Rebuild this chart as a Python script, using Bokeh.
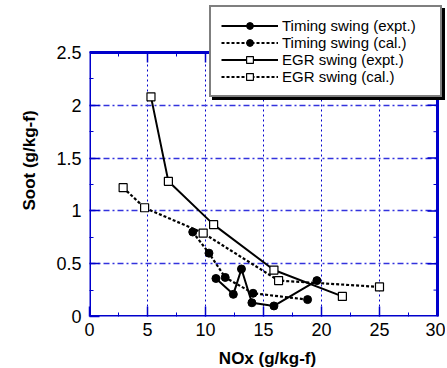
import math
from bokeh.plotting import figure
from bokeh.models import Range1d, FixedTicker, Legend, LegendItem
from bokeh.embed import file_html
from bokeh.resources import INLINE

# ---- data ----
timing_expt_x = [10.9, 12.4, 13.1, 14.0, 15.9, 19.6]
timing_expt_y = [0.36, 0.21, 0.45, 0.13, 0.10, 0.34]
timing_cal_x = [8.9, 10.3, 11.7, 14.1, 18.8]
timing_cal_y = [0.80, 0.60, 0.37, 0.22, 0.16]
egr_expt_x = [5.3, 6.8, 10.7, 15.9, 21.8]
egr_expt_y = [2.08, 1.28, 0.87, 0.44, 0.19]
egr_cal_x = [2.9, 4.75, 9.8, 16.3, 25.0]
egr_cal_y = [1.22, 1.03, 0.79, 0.34, 0.28]

x_ticks = [0, 5, 10, 15, 20, 25, 30]
x_minor = [2.5, 7.5, 12.5, 17.5, 22.5, 27.5]
y_ticks = [0, 0.5, 1, 1.5, 2, 2.5]
y_tick_labels = ["0", "0.5", "1", "1.5", "2", "2.5"]
y_minor = [0.25, 0.75, 1.25, 1.75, 2.25]

labels = ["Timing swing (expt.)", "Timing swing (cal.)",
          "EGR swing (expt.)", "EGR swing (cal.)"]

BLUE = "#0000cc"
FONT = "Liberation Sans"

# plot box (axes area) is 348 x 264 px; the drawing frame is extended
# above and to the right so the legend can overlap the box edge
BOX_W, BOX_H = 348, 264
FRAME_W, FRAME_H = 356, 312
x_lo, x_hi = x_ticks[0], x_ticks[-1]
y_lo, y_hi = y_ticks[0], y_ticks[-1]
x_end = x_lo + (x_hi - x_lo) * FRAME_W / BOX_W
y_end = y_lo + (y_hi - y_lo) * FRAME_H / BOX_H

p = figure(frame_width=FRAME_W, frame_height=FRAME_H, output_backend="svg",
           toolbar_location=None, x_range=Range1d(x_lo, x_end),
           y_range=Range1d(y_lo, y_end),
           min_border_left=89, min_border_top=4, min_border_bottom=52,
           min_border_right=0)
p.background_fill_color = "white"
p.border_fill_color = "white"
p.outline_line_color = None

xa = p.xaxis[0]
ya = p.yaxis[0]
xa.ticker = FixedTicker(ticks=x_ticks, minor_ticks=x_minor)
ya.ticker = FixedTicker(ticks=y_ticks, minor_ticks=y_minor)
ya.major_label_overrides = {t: l for t, l in zip(y_ticks, y_tick_labels)}
xa.bounds = (x_lo, x_hi)
ya.bounds = (y_lo, y_hi)
for ax in (xa, ya):
    ax.axis_line_color = None
    ax.major_tick_line_color = BLUE
    ax.minor_tick_line_color = BLUE
    ax.major_tick_line_width = 1.5
    ax.minor_tick_line_width = 1
    ax.major_tick_in = 10
    ax.major_tick_out = 0
    ax.minor_tick_in = 4
    ax.minor_tick_out = 0
    ax.major_label_text_font = FONT
    ax.major_label_text_font_size = "18px"
    ax.major_label_text_color = "black"
    ax.axis_label_text_font = FONT
    ax.axis_label_text_font_style = "bold"
    ax.axis_label_text_font_size = "17px"
    ax.axis_label_text_color = "black"
xa.axis_label = "NOx (g/kg-f)"
ya.axis_label = "Soot (g/kg-f)"
xa.major_label_standoff = 6
ya.major_label_standoff = 8
xa.axis_label_standoff = 10
ya.axis_label_standoff = 14

p.xgrid.ticker = FixedTicker(ticks=x_ticks[1:-1])
p.ygrid.ticker = FixedTicker(ticks=y_ticks[1:-1])
p.xgrid.cross_bounds = (y_lo, y_hi)
p.ygrid.cross_bounds = (x_lo, x_hi)
p.xgrid.grid_line_color = BLUE
p.xgrid.grid_line_dash = "2 3"
p.xgrid.grid_line_width = 1
p.ygrid.grid_line_color = "#3333dd"
p.ygrid.grid_line_dash = "6 3 2 3"
p.ygrid.grid_line_width = 1.3

# ticks on the top and right edges of the box
p.ray(x=x_ticks[1:-1], y=[y_hi] * (len(x_ticks) - 2), length=10, length_units="screen",
      angle=-math.pi / 2, line_color=BLUE, line_width=1.5)
p.ray(x=x_minor, y=[y_hi] * len(x_minor), length=4, length_units="screen",
      angle=-math.pi / 2, line_color=BLUE, line_width=1)
p.ray(x=[x_hi] * (len(y_ticks) - 2), y=y_ticks[1:-1], length=10, length_units="screen",
      angle=math.pi, line_color=BLUE, line_width=1.5)
p.ray(x=[x_hi] * len(y_minor), y=y_minor, length=4, length_units="screen",
      angle=math.pi, line_color=BLUE, line_width=1)

# ---- series ----
l1 = p.line(timing_expt_x, timing_expt_y, line_color="black", line_width=2)
s1 = p.scatter(timing_expt_x, timing_expt_y, marker="circle", size=8,
               fill_color="black", line_color="black")
l2 = p.line(timing_cal_x, timing_cal_y, line_color="black", line_width=2.2,
            line_dash="3 2")
s2 = p.scatter(timing_cal_x, timing_cal_y, marker="circle", size=8,
               fill_color="black", line_color="black")
l3 = p.line(egr_expt_x, egr_expt_y, line_color="black", line_width=2)
s3 = p.scatter(egr_expt_x, egr_expt_y, marker="square", size=8,
               fill_color="white", line_color="black", line_width=1.2)
l4 = p.line(egr_cal_x, egr_cal_y, line_color="black", line_width=2.2,
            line_dash="3 2")
s4 = p.scatter(egr_cal_x, egr_cal_y, marker="square", size=8,
               fill_color="white", line_color="black", line_width=1.2)

# blue box around the axes area
p.quad(left=[x_lo], right=[x_hi], bottom=[y_lo], top=[y_hi], fill_color=None,
       line_color=BLUE, line_width=3)

pairs = [(l1, s1), (l2, s2), (l3, s3), (l4, s4)]

def make_legend(loc, shadow):
    items = [LegendItem(label=(" " if shadow else lab), renderers=[lr, sr])
             for lab, (lr, sr) in zip(labels, pairs)]
    lg = Legend(items=items, location=loc)
    lg.label_text_font = FONT
    lg.label_text_font_size = "15px"
    lg.label_height = 17
    lg.glyph_height = 17
    lg.glyph_width = 57
    lg.label_width = 148
    lg.label_standoff = 4
    lg.padding = 10
    lg.spacing = 0
    lg.margin = 0
    lg.border_line_color = "black"
    lg.border_line_width = 2
    lg.background_fill_alpha = 1
    lg.background_fill_color = "black" if shadow else "white"
    lg.label_text_color = "black"
    return lg

p.add_layout(make_legend((123, 216), True), "center")
p.add_layout(make_legend((120, 219), False), "center")

open("out.html", "w").write(file_html(p, INLINE))
